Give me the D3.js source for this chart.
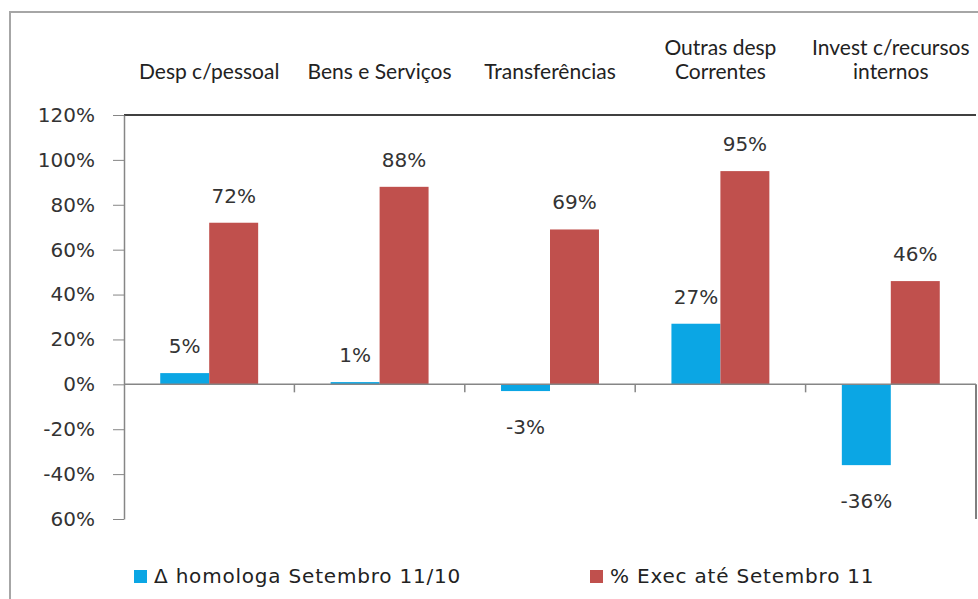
<!DOCTYPE html>
<html>
<head>
<meta charset="utf-8">
<script src="https://cdn.jsdelivr.net/npm/d3@7"></script>
<style>
  body { margin: 0; background: #fff; }
  svg { display: block; }
</style>
</head>
<body>
<div id="chart"></div>
<script>
// categories (multi-line labels) and series
var categories = ["Desp c/pessoal", "Bens e Serviços", "Transferências", "Outras desp Correntes", "Invest c/recursos internos"];
var categoryLines = [["Desp c/pessoal"], ["Bens e Serviços"], ["Transferências"], ["Outras desp", "Correntes"], ["Invest c/recursos", "internos"]];
var seriesNames = ["Δ homologa Setembro 11/10", "% Exec até Setembro 11"];
var homologa = [5, 1, -3, 27, -36];
var execucao = [72, 88, 69, 95, 46];
var tickValues = [120, 100, 80, 60, 40, 20, 0, -20, -40, -60];
var tickLabels = ["120%", "100%", "80%", "60%", "40%", "20%", "0%", "-20%", "-40%", "60%"];
var colors = ["#0ba6e4", "#c0504d"];

var width = 978, height = 599;
var margin = { top: 115, right: 2, bottom: 80, left: 124 };

var svg = d3.select("#chart")
    .append("svg")
    .attr("width", width)
    .attr("height", height);

// outer chart border (cut off on right/bottom)
svg.append("rect")
    .attr("x", 10).attr("y", 12)
    .attr("width", width + 20).attr("height", height + 20)
    .attr("fill", "none")
    .attr("stroke", "#a6a6a6")
    .attr("stroke-width", 2);

var data = categories.map(function (c, i) {
    return { cat: c, lines: categoryLines[i], values: [homologa[i], execucao[i]] };
});

// scales
var x0 = d3.scaleBand()
    .domain(categories)
    .range([margin.left, width - margin.right]);

var x1 = d3.scaleBand()
    .domain(seriesNames)
    .range([0, x0.bandwidth()])
    .paddingInner(0)
    .paddingOuter(0.74);

var y = d3.scaleLinear()
    .domain([-60, 120])
    .range([height - margin.bottom, margin.top]);

// top border of plot
svg.append("line")
    .attr("x1", margin.left).attr("x2", width - margin.right)
    .attr("y1", y(120)).attr("y2", y(120))
    .attr("stroke", "#404040")
    .attr("stroke-width", 2);

// right edge below zero
svg.append("line")
    .attr("x1", width - margin.right).attr("x2", width - margin.right)
    .attr("y1", y(0)).attr("y2", y(-60))
    .attr("stroke", "#555")
    .attr("stroke-width", 1.5);

// Y axis
var yAxis = svg.append("g")
    .attr("transform", "translate(" + margin.left + ",0)")
    .call(d3.axisLeft(y)
        .tickValues(tickValues)
        .tickSize(11)
        .tickSizeOuter(0)
        .tickPadding(18)
        .tickFormat(function (d, i) { return tickLabels[i]; }));
yAxis.select(".domain").attr("stroke", "#868686").attr("stroke-width", 1.5);
yAxis.selectAll(".tick line").attr("stroke", "#868686");
yAxis.selectAll("text")
    .attr("font-family", "DejaVu Sans")
    .attr("font-size", 20)
    .attr("fill", "#333");

// bars
var groups = svg.selectAll("g.cat")
    .data(data)
    .enter()
    .append("g")
    .attr("class", "cat")
    .attr("transform", function (d) { return "translate(" + x0(d.cat) + ",0)"; });

groups.selectAll("rect")
    .data(function (d) { return d.values.map(function (v, i) { return { s: seriesNames[i], v: v, i: i }; }); })
    .enter()
    .append("rect")
    .attr("x", function (d) { return x1(d.s); })
    .attr("width", x1.bandwidth())
    .attr("y", function (d) { return y(Math.max(0, d.v)); })
    .attr("height", function (d) { return Math.abs(y(d.v) - y(0)); })
    .attr("fill", function (d) { return colors[d.i]; });

// value labels
groups.selectAll("text.val")
    .data(function (d) { return d.values.map(function (v, i) { return { s: seriesNames[i], v: v }; }); })
    .enter()
    .append("text")
    .attr("class", "val")
    .attr("x", function (d) { return x1(d.s) + x1.bandwidth() / 2; })
    .attr("y", function (d) { return d.v >= 0 ? y(d.v) - 20 : y(d.v) + 43; })
    .attr("text-anchor", "middle")
    .attr("font-family", "DejaVu Sans")
    .attr("font-size", 20)
    .attr("fill", "#333")
    .text(function (d) { return d.v + "%"; });

// zero line with category ticks
svg.append("line")
    .attr("x1", margin.left).attr("x2", width - margin.right)
    .attr("y1", y(0)).attr("y2", y(0))
    .attr("stroke", "#868686")
    .attr("stroke-width", 1.5);
svg.selectAll("line.cattick")
    .data(categories.slice(1))
    .enter()
    .append("line")
    .attr("class", "cattick")
    .attr("x1", function (d) { return x0(d); })
    .attr("x2", function (d) { return x0(d); })
    .attr("y1", y(0)).attr("y2", y(0) + 8)
    .attr("stroke", "#868686")
    .attr("stroke-width", 1.5);

// category labels at top
var catText = svg.selectAll("text.catlabel")
    .data(data)
    .enter()
    .append("text")
    .attr("class", "catlabel")
    .attr("text-anchor", "middle")
    .attr("font-family", "Lato")
    .attr("font-size", 21)
    .attr("fill", "#222");
catText.selectAll("tspan")
    .data(function (d) {
        return d.lines.map(function (l, i) {
            return { text: l, x: x0(d.cat) + x0.bandwidth() / 2, y: 79 - (d.lines.length - 1 - i) * 24 };
        });
    })
    .enter()
    .append("tspan")
    .attr("x", function (d) { return d.x; })
    .attr("y", function (d) { return d.y; })
    .text(function (d) { return d.text; });

// legend
var legendX = [134, 590];
var legend = svg.selectAll("g.legend")
    .data(seriesNames)
    .enter()
    .append("g")
    .attr("class", "legend")
    .attr("transform", function (d, i) { return "translate(" + legendX[i] + ",570)"; });
legend.append("rect")
    .attr("width", 13).attr("height", 13)
    .attr("fill", function (d, i) { return colors[i]; });
legend.append("text")
    .attr("x", 20).attr("y", 13)
    .attr("font-family", "DejaVu Sans")
    .attr("font-size", 20)
    .attr("letter-spacing", 0.8)
    .attr("fill", "#222")
    .text(function (d) { return d; });
</script>
</body>
</html>
